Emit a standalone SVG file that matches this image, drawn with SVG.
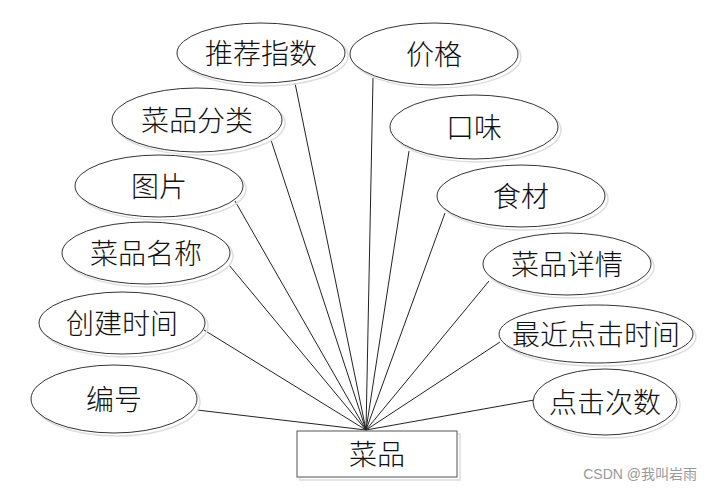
<svg xmlns="http://www.w3.org/2000/svg" width="708" height="493" viewBox="0 0 708 493">
<style>
.e{fill:#fff;stroke:#333;stroke-width:1}
.s{fill:none;stroke:#ddd;stroke-width:1.5}
.t{font-family:"Noto Sans CJK SC","Noto Sans",sans-serif;font-size:28px;font-weight:300;fill:#111;text-anchor:middle;dominant-baseline:central}
.c line{stroke:#222;stroke-width:1}
</style>
<rect width="708" height="493" fill="#fff"/>
<g class="c" id="connectors">
<line x1="295" y1="83" x2="366" y2="430"/>
<line x1="373" y1="78" x2="366" y2="430"/>
<line x1="271" y1="140" x2="366" y2="430"/>
<line x1="409" y1="151" x2="366" y2="430"/>
<line x1="235" y1="201" x2="366" y2="430"/>
<line x1="445" y1="213" x2="366" y2="430"/>
<line x1="229" y1="265" x2="366" y2="430"/>
<line x1="489" y1="281" x2="366" y2="430"/>
<line x1="204" y1="330" x2="366" y2="430"/>
<line x1="500" y1="342" x2="366" y2="430"/>
<line x1="197" y1="410" x2="366" y2="430"/>
<line x1="534" y1="400" x2="366" y2="430"/>
</g>
<g id="n-tuijianzhishu"><ellipse class="s" cx="264" cy="56" rx="84" ry="30"/><ellipse class="e" cx="261" cy="53" rx="84" ry="30"/><text class="t" x="261" y="52">推荐指数</text></g>
<g id="n-jiage"><ellipse class="s" cx="437" cy="57" rx="84" ry="31"/><ellipse class="e" cx="434" cy="54" rx="84" ry="31"/><text class="t" x="434" y="53">价格</text></g>
<g id="n-caipinfenlei"><ellipse class="s" cx="200" cy="123" rx="85" ry="32"/><ellipse class="e" cx="197" cy="120" rx="85" ry="32"/><text class="t" x="197" y="119">菜品分类</text></g>
<g id="n-kouwei"><ellipse class="s" cx="477" cy="130" rx="84" ry="32"/><ellipse class="e" cx="474" cy="127" rx="84" ry="32"/><text class="t" x="474" y="126">口味</text></g>
<g id="n-tupian"><ellipse class="s" cx="162" cy="189" rx="84" ry="31"/><ellipse class="e" cx="159" cy="186" rx="84" ry="31"/><text class="t" x="159" y="185">图片</text></g>
<g id="n-shicai"><ellipse class="s" cx="524" cy="199" rx="84" ry="31"/><ellipse class="e" cx="521" cy="196" rx="84" ry="31"/><text class="t" x="521" y="195">食材</text></g>
<g id="n-caipinmingcheng"><ellipse class="s" cx="149" cy="256" rx="84" ry="31"/><ellipse class="e" cx="146" cy="253" rx="84" ry="31"/><text class="t" x="146" y="252">菜品名称</text></g>
<g id="n-caipinxiangqing"><ellipse class="s" cx="570" cy="267" rx="84" ry="31"/><ellipse class="e" cx="567" cy="264" rx="84" ry="31"/><text class="t" x="567" y="263">菜品详情</text></g>
<g id="n-chuangjianshijian"><ellipse class="s" cx="125" cy="326" rx="83" ry="31"/><ellipse class="e" cx="122" cy="323" rx="83" ry="31"/><text class="t" x="122" y="322">创建时间</text></g>
<g id="n-zuijindianjishijian"><ellipse class="s" cx="599" cy="337" rx="97" ry="29"/><ellipse class="e" cx="596" cy="334" rx="97" ry="29"/><text class="t" x="596" y="333">最近点击时间</text></g>
<g id="n-bianhao"><ellipse class="s" cx="117" cy="402" rx="83" ry="34"/><ellipse class="e" cx="114" cy="399" rx="83" ry="34"/><text class="t" x="114" y="398">编号</text></g>
<g id="n-dianjicishu"><ellipse class="s" cx="608" cy="405" rx="72" ry="33"/><ellipse class="e" cx="605" cy="402" rx="72" ry="33"/><text class="t" x="605" y="401">点击次数</text></g>
<g id="n-caipin"><rect x="300" y="434" width="160" height="46" fill="none" stroke="#ddd" stroke-width="1.5"/><rect x="297" y="431" width="160" height="46" fill="#fff" stroke="#555" stroke-width="1"/><text class="t" x="377" y="453">菜品</text></g>
<text x="697" y="474" font-family="Liberation Sans,'Noto Sans CJK SC',sans-serif" font-size="14" fill="#999" text-anchor="end" dominant-baseline="central">CSDN @我叫岩雨</text>
</svg>
